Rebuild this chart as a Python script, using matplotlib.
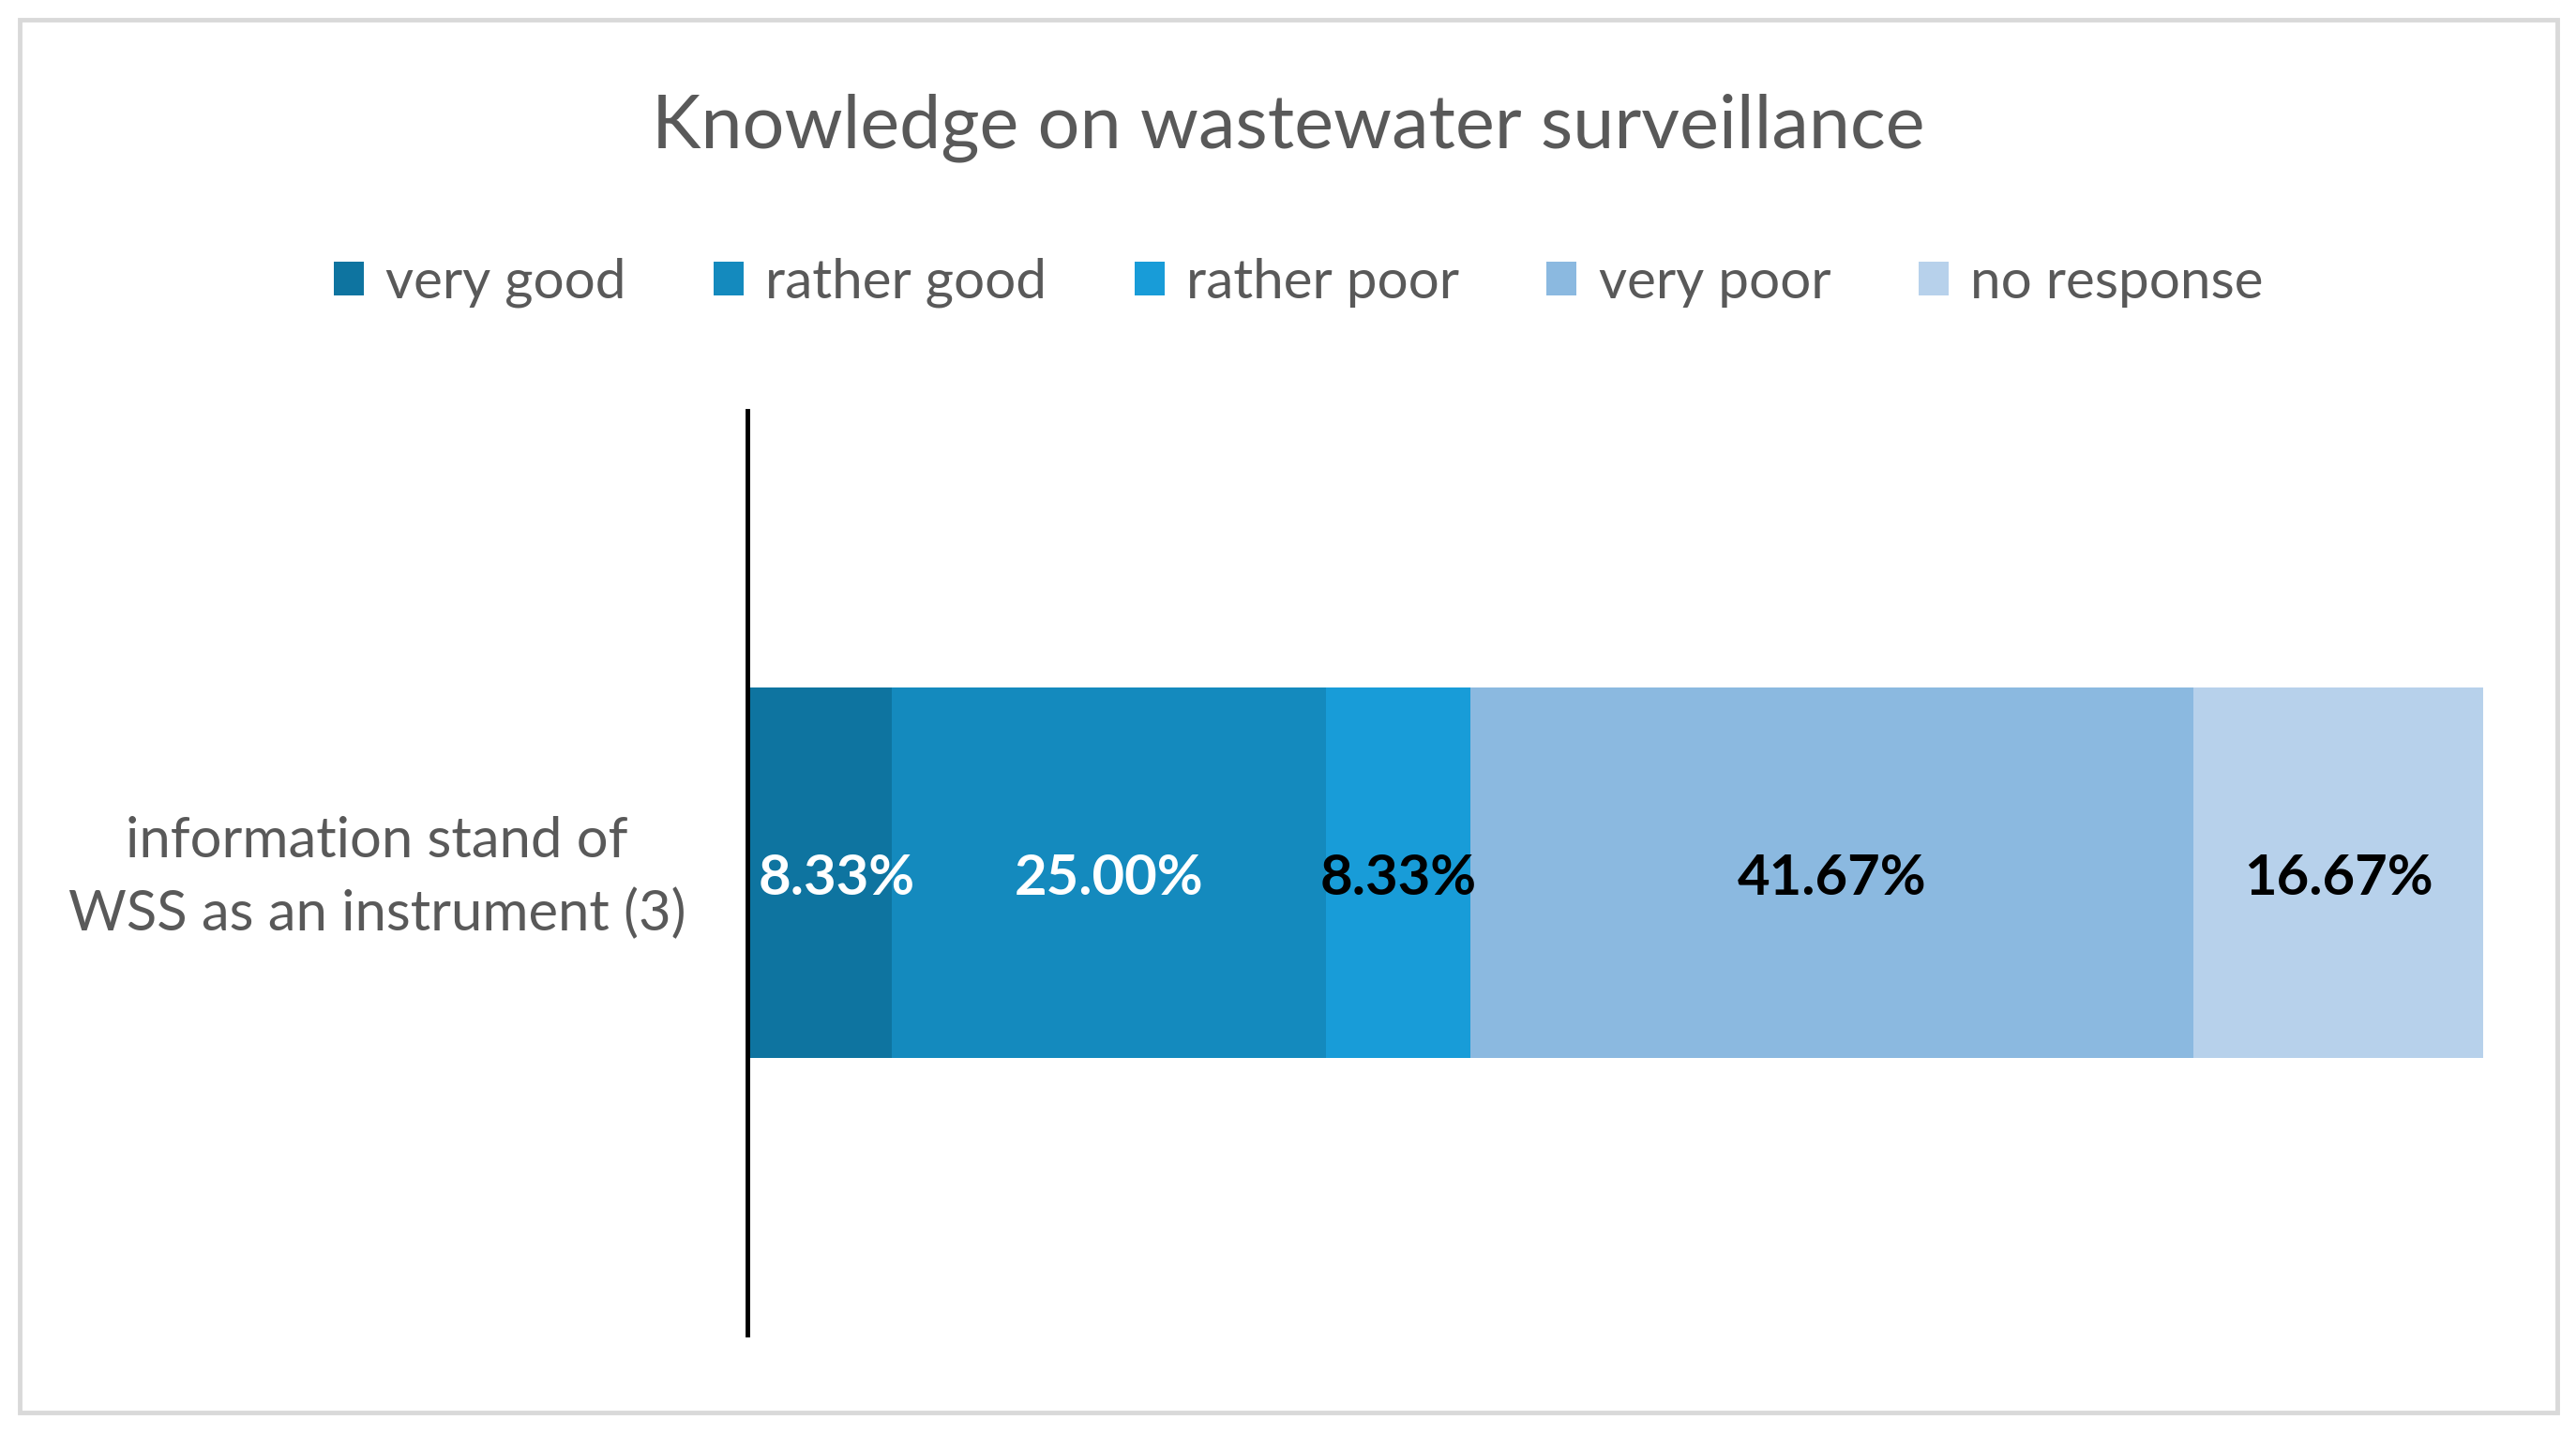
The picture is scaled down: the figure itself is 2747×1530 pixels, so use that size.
import numpy as np
import matplotlib
matplotlib.use("Agg")
import matplotlib.pyplot as plt
import matplotlib.transforms as mtransforms
from matplotlib.patches import Rectangle

# dados
category = "information stand of\nWSS as an instrument (3)"
series = ["very good", "rather good", "rather poor", "very poor", "no response"]
values = [8.33, 25.00, 8.33, 41.67, 16.67]
colors = ["#0E74A0", "#148ABE", "#189CD8", "#8BB9E0", "#B7D1EB"]
label_colors = ["white", "white", "black", "black", "black"]

plt.rcParams['font.family'] = ['Lato', 'DejaVu Sans']

fig = plt.figure(figsize=(27.47, 15.30), dpi=100)
ax = fig.add_axes([0.290, 0.0698, 0.674, 0.644])

# moldura cinza
fig.patches.append(Rectangle((0.0077, 0.016), 0.985, 0.970, transform=fig.transFigure,
                             fill=False, edgecolor="#D9D9D9", linewidth=3.5))

ax.set_xlim(0, sum(values))
ax.set_ylim(-0.5, 0.5)

left = 0
labels = []
for name, v, c, lc in zip(series, values, colors, label_colors):
    ax.barh(0, v, left=left, height=0.4, color=c, label=name)
    t = ax.annotate(f"{v:.2f}%", (left + v / 2, 0), xytext=(0, -5), textcoords="offset points",
                    ha="center", va="center", color=lc, fontsize=43, fontweight="bold")
    labels.append(t)
    left += v

# rótulo não pode passar por cima do eixo (como no Excel)
fig.canvas.draw()
r = fig.canvas.get_renderer()
ax_left = ax.get_window_extent(r).x0
for t in labels:
    bb = t.get_window_extent(r)
    if bb.x0 < ax_left + 12:
        dx = (ax_left + 12 - bb.x0) * 72 / fig.dpi
        t.xyann = (t.xyann[0] + dx, t.xyann[1])

ax.set_xticks([])
ax.set_yticks([0])
ax.set_yticklabels([category], fontsize=43, color="#595959", linespacing=1.5, ha="center")
ax.tick_params(axis="y", length=0, pad=284)
off = mtransforms.ScaledTranslation(0, 8 / 72, fig.dpi_scale_trans)
for lab in ax.get_yticklabels():
    lab.set_transform(lab.get_transform() + off)
for s in ["top", "right", "bottom"]:
    ax.spines[s].set_visible(False)
ax.spines["left"].set_linewidth(3.5)
ax.spines["left"].set_color("black")

fig.text(0.5, 0.911, "Knowledge on wastewater surveillance", ha="center", va="center",
         fontsize=57, color="#595959")

leg = fig.legend(loc="center", bbox_to_anchor=(0.504, 0.803), ncol=5, frameon=False,
                 fontsize=42, handlelength=0.55, handleheight=0.55, handletextpad=0.4,
                 columnspacing=1.6)
for t in leg.get_texts():
    t.set_color("#595959")

fig.savefig("out.png", dpi=100)
